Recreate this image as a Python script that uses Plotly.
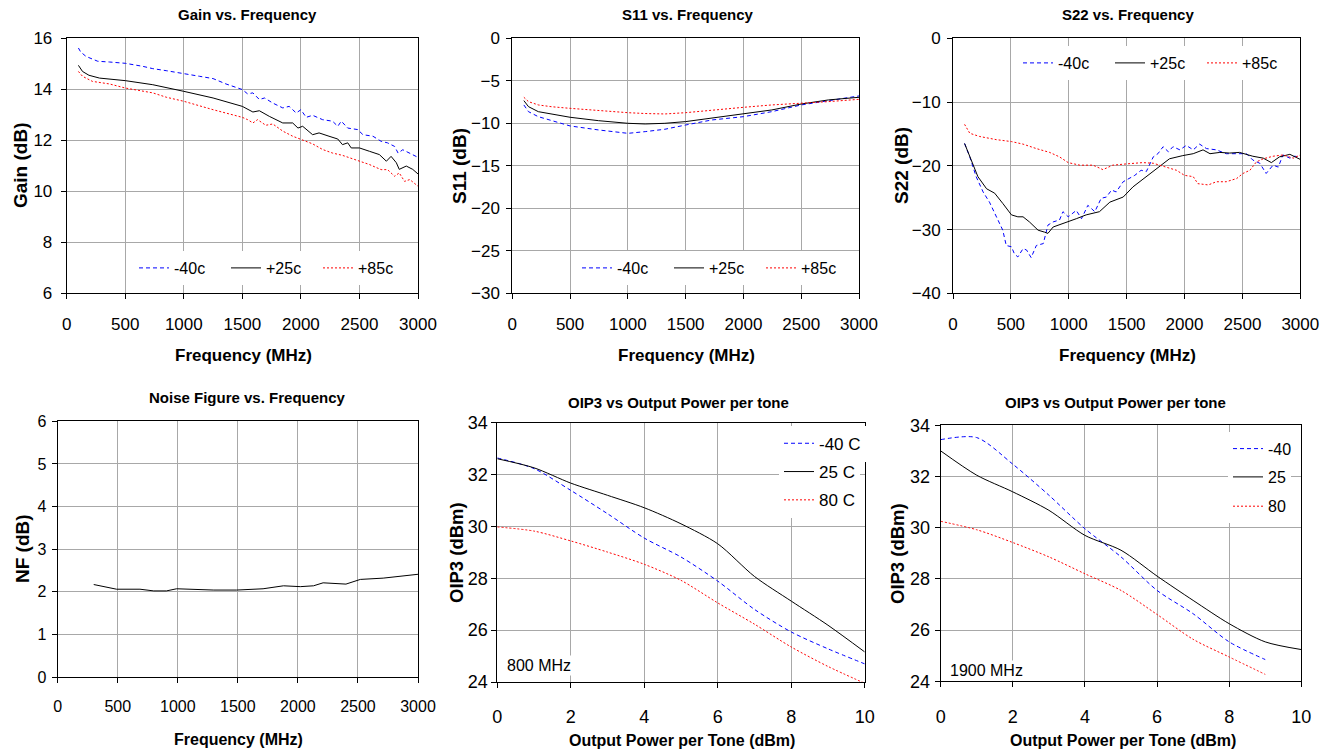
import plotly.graph_objects as go

W, H = 1332, 754

# ---------------- data ----------------
gain_m40_f = [100,120,165,220,265,365,500,650,735,850,1000,1135,1250,1360,1500,1545,1590,1645,1690,1760,
              1845,1900,1960,2000,2045,2100,2185,2270,2315,2345,2400,2485,2530,2615,2685,2740,2800,2830,2870,2930,3000]
gain_m40 = [15.62,15.46,15.29,15.2,15.1,15.07,15.02,14.9,14.81,14.73,14.63,14.51,14.42,14.21,13.99,13.82,13.86,13.6,13.66,13.46,
            13.27,13.33,13.07,13.2,12.9,12.98,12.81,12.75,12.55,12.75,12.48,12.42,12.22,12.16,11.96,11.9,11.76,11.5,11.63,11.5,11.33]
gain_p25_f = [100,135,190,280,500,735,1000,1250,1500,1590,1645,1730,1845,1930,1975,2015,2100,2155,2240,2315,
              2355,2400,2430,2500,2585,2670,2730,2770,2815,2840,2900,2955,3000]
gain_p25 = [14.94,14.7,14.55,14.44,14.34,14.18,13.92,13.66,13.33,13.11,13.16,12.94,12.68,12.68,12.48,12.55,12.22,12.29,12.16,12.05,
            11.83,11.9,11.7,11.7,11.57,11.44,11.18,11.37,11.12,10.86,10.99,10.86,10.68]
gain_p85_f = [100,135,220,365,500,735,850,1000,1250,1500,1545,1590,1630,1700,1760,1845,1930,2000,2100,2185,
              2270,2355,2500,2585,2685,2740,2800,2840,2885,2930,3000]
gain_p85 = [14.7,14.51,14.31,14.21,14.05,13.86,13.69,13.53,13.2,12.9,12.81,12.68,12.81,12.59,12.64,12.36,12.16,12.03,11.86,11.64,
            11.5,11.41,11.18,11.05,10.85,10.85,10.59,10.72,10.39,10.46,10.2]

s11_f = [100,140,225,340,500,745,1000,1150,1320,1500,1725,2000,2245,2500,2735,3000]
s11_m40 = [-7.84,-8.63,-9.22,-9.69,-10.31,-10.78,-11.18,-10.98,-10.7,-10.2,-9.61,-9.22,-8.63,-7.84,-7.33,-6.78]
s11_p25 = [-7.33,-8.04,-8.63,-8.94,-9.29,-9.69,-10.0,-10.08,-10.0,-9.8,-9.41,-8.9,-8.43,-7.73,-7.25,-6.94]
s11_p85 = [-6.94,-7.45,-7.84,-8.05,-8.24,-8.51,-8.75,-8.85,-8.9,-8.75,-8.43,-8.12,-7.84,-7.65,-7.45,-7.18]

s22_m40_f = [100,145,200,260,315,375,430,460,505,530,560,605,635,675,720,780,820,865,920,950,
             995,1065,1110,1165,1225,1280,1325,1370,1410,1470,1525,1570,1625,1670,1730,1770,1815,1860,1900,1960,
             2015,2075,2130,2190,2275,2360,2450,2535,2590,2650,2705,2765,2810,2850,2910,2950,3000]
s22_m40 = [-16.5,-18.6,-21.7,-24.1,-25.7,-28.0,-30.1,-32.5,-32.7,-33.8,-34.3,-33.0,-33.2,-34.4,-32.5,-32.2,-29.3,-28.8,-28.5,-27.2,
           -28.0,-27.0,-28.3,-26.2,-27.2,-25.1,-24.9,-23.8,-24.1,-22.5,-22.0,-21.5,-20.7,-20.9,-18.6,-18.1,-17.0,-17.8,-17.0,-17.5,
           -16.8,-17.5,-16.6,-17.3,-17.5,-18.1,-18.1,-18.1,-19.1,-19.6,-21.2,-19.9,-20.2,-18.3,-18.8,-18.5,-18.6]
s22_p25_f = [100,160,215,290,360,430,505,560,605,660,735,790,820,865,950,1065,1150,1265,1355,1470,
             1555,1670,1785,1870,1985,2075,2160,2220,2305,2390,2475,2590,2680,2750,2820,2910,3000]
s22_p25 = [-16.5,-19.1,-21.7,-23.6,-24.3,-25.9,-27.7,-28.0,-28.0,-28.8,-30.1,-30.4,-30.6,-29.6,-29.1,-28.3,-27.7,-27.2,-25.7,-24.9,
           -23.3,-21.7,-20.2,-18.9,-18.4,-18.1,-17.5,-18.1,-17.9,-18.0,-17.9,-18.5,-18.8,-19.5,-18.6,-18.2,-19.0]
s22_p85_f = [100,145,230,375,505,605,720,835,920,995,1095,1210,1295,1380,1500,1640,1730,1845,1930,2000,
             2075,2115,2205,2275,2360,2450,2505,2565,2620,2680,2765,2850,2940,3000]
s22_p85 = [-13.5,-14.9,-15.4,-15.9,-16.2,-16.6,-17.3,-17.9,-18.6,-19.5,-19.9,-19.9,-20.6,-19.9,-19.7,-19.5,-19.6,-20.2,-20.7,-21.5,
           -21.7,-22.8,-23.0,-22.5,-22.5,-22.0,-21.2,-20.7,-19.4,-18.9,-18.5,-18.3,-18.8,-18.3]

nf_f = [300,490,685,800,905,990,1300,1490,1710,1880,2020,2130,2210,2300,2400,2520,2710,3000]
nf = [2.17,2.06,2.06,2.02,2.02,2.07,2.04,2.04,2.07,2.14,2.12,2.14,2.21,2.19,2.18,2.29,2.32,2.41]

pout_800 = [0,1,2,3,4,5,6,7,8,9,10]
oip3_800_m40 = [32.64,32.23,31.39,30.49,29.55,28.82,27.89,26.8,25.93,25.28,24.7]
oip3_800_p25 = [32.61,32.26,31.67,31.2,30.72,30.1,29.33,28.07,27.12,26.19,25.16]
oip3_800_p80 = [29.98,29.82,29.44,29.01,28.54,27.92,27.05,26.23,25.35,24.6,23.95]

pout_1900_9 = [0,1,2,3,4,5,6,7,8,9]
pout_1900_10 = [0,1,2,3,4,5,6,7,8,9,10]
oip3_1900_m40 = [33.44,33.52,32.48,31.27,29.96,28.86,27.55,26.64,25.54,24.85]
oip3_1900_p25 = [33.0,32.05,31.4,30.68,29.7,29.12,28.11,27.16,26.25,25.54,25.24]
oip3_1900_p80 = [30.25,29.92,29.42,28.86,28.2,27.55,26.61,25.64,24.95,24.27]

names_freq = ["-40c", "+25c", "+85c"]
names_800 = ["-40 C", "25 C", "80 C"]
names_1900 = ["-40", "25", "80"]

# ---------------- styles ----------------
FONT = "Liberation Sans, Arial, sans-serif"
BLUE, BLACK, RED = "#0000FF", "#000000", "#FF0000"
DASH, DOT = "4px,3px", "2px,2px"
styles = [dict(color=BLUE, width=1, dash=DASH),
          dict(color=BLACK, width=1, dash="solid"),
          dict(color=RED, width=1, dash=DOT)]

fig = go.Figure()

def add(i, x, y, name, st, legend, spline=False, show=True):
    ax = "" if i == 1 else str(i)
    line = dict(st)
    if spline:
        line["shape"] = "spline"
        line["smoothing"] = 0.8
    fig.add_trace(go.Scatter(x=x, y=y, name=name, mode="lines", line=line,
                             xaxis="x" + ax, yaxis="y" + ax, legend=legend,
                             showlegend=show, hoverinfo="skip"))

for xs, ys, nm, st in zip([gain_m40_f, gain_p25_f, gain_p85_f], [gain_m40, gain_p25, gain_p85], names_freq, styles):
    add(1, xs, ys, nm, st, "legend")
for ys, nm, st in zip([s11_m40, s11_p25, s11_p85], names_freq, styles):
    add(2, s11_f, ys, nm, st, "legend2")
for xs, ys, nm, st in zip([s22_m40_f, s22_p25_f, s22_p85_f], [s22_m40, s22_p25, s22_p85], names_freq, styles):
    add(3, xs, ys, nm, st, "legend3")
add(4, nf_f, nf, "NF", styles[1], "legend", show=False)
for k, (ys, nm, st) in enumerate(zip([oip3_800_m40, oip3_800_p25, oip3_800_p80], names_800, styles)):
    add(5, pout_800, ys, nm, st, "legend%d" % (4 + k), spline=True)
for k, (xs, ys, nm, st) in enumerate(zip([pout_1900_9, pout_1900_10, pout_1900_9],
                                         [oip3_1900_m40, oip3_1900_p25, oip3_1900_p80], names_1900, styles)):
    add(6, xs, ys, nm, st, "legend%d" % (7 + k), spline=True)

def px(x): return x / W
def py(y): return 1 - y / H

# plot areas in pixels: (left, right, top, bottom)
areas = {
    1: (66.7, 418, 38.3, 293.3),
    2: (512.3, 859, 38.3, 293.3),
    3: (953, 1300.3, 38.3, 293.3),
    4: (57.7, 418, 421.3, 677),
    5: (497.3, 864.7, 422.7, 682),
    6: (940.7, 1301.3, 425.3, 681.3),
}
yranges = {1: [6, 16], 2: [-30, 0], 3: [-40, 0], 4: [0, 6], 5: [24, 34], 6: [24, 34]}
ydticks = {1: 2, 2: 5, 3: 10, 4: 1, 5: 2, 6: 2}
tickfs = {1: 17, 2: 17, 3: 17, 4: 16, 5: 18, 6: 18}
ystand = {1: 5, 2: 3, 3: 3, 4: 2, 5: 0, 6: 1}
xstand = {1: 10, 2: 10, 3: 10, 4: 10, 5: 13, 6: 14}

layout = dict(width=W, height=H, margin=dict(l=0, r=0, t=0, b=0, pad=0, autoexpand=False),
              paper_bgcolor="white", plot_bgcolor="white",
              font=dict(family=FONT, color="black"), showlegend=True)

for i, (l, r, t, b) in areas.items():
    ax = "" if i == 1 else str(i)
    common = dict(showline=True, linecolor="black", linewidth=1, mirror=True,
                  showgrid=True, gridcolor="#A8A8A8", gridwidth=1, zeroline=False,
                  ticks="outside", ticklen=5, tickcolor="black", tickwidth=1, automargin=False,
                  tickfont=dict(family=FONT, size=tickfs[i], color="black"), fixedrange=True)
    if i <= 4:
        xr, xd = [0, 3000], 500
    else:
        xr, xd = [0, 10], 2
    layout["xaxis" + ax] = dict(common, domain=[px(l), px(r)], range=xr, dtick=xd, tick0=0,
                                anchor="y" + ax, ticklabelstandoff=xstand[i])
    layout["yaxis" + ax] = dict(common, domain=[py(b), py(t)], range=yranges[i], dtick=ydticks[i],
                                tick0=0, anchor="x" + ax, ticklabelstandoff=ystand[i])

# legends
def hleg(x, y):
    return dict(orientation="h", x=px(x), y=py(y), xanchor="left", yanchor="middle",
                bgcolor="white", borderwidth=0, font=dict(family=FONT, size=16),
                entrywidth=47, entrywidthmode="pixels", itemclick=False, itemdoubleclick=False)

def vleg(x, y, fs):
    return dict(orientation="v", x=px(x), y=py(y), xanchor="left", yanchor="middle",
                bgcolor="white", borderwidth=0, font=dict(family=FONT, size=fs),
                itemclick=False, itemdoubleclick=False)

layout["legend"] = hleg(134, 268)
layout["legend2"] = hleg(577, 268)
layout["legend3"] = hleg(1018, 63)
for k, yy in enumerate([443.7, 472, 500.3]):
    layout["legend%d" % (4 + k)] = vleg(779, yy, 17)
for k, yy in enumerate([448.7, 477, 506.3]):
    layout["legend%d" % (7 + k)] = vleg(1228, yy, 16)

ann = []
def text(x, y, s, size, bold=True, angle=0, bg=None, xanchor="center"):
    d = dict(x=px(x), y=py(y), xref="paper", yref="paper", text=("<b>%s</b>" % s) if bold else s,
             showarrow=False, xanchor=xanchor, yanchor="middle", textangle=angle,
             font=dict(family=FONT, size=size, color="black"))
    if bg:
        d["bgcolor"] = bg
    ann.append(d)

# chart titles
text(247, 14, "Gain vs. Frequency", 15)
text(688, 14, "S11 vs. Frequency", 15)
text(1128, 14, "S22 vs. Frequency", 15)
text(247, 397, "Noise Figure vs. Frequency", 15)
text(678, 403, "OIP3 vs Output Power per tone", 15)
text(1115, 403, "OIP3 vs Output Power per tone", 15)
# x titles
text(243, 355, "Frequency (MHz)", 17)
text(686, 355, "Frequency (MHz)", 17)
text(1127, 355, "Frequency (MHz)", 17)
text(238, 739, "Frequency (MHz)", 16)
text(682, 740, "Output Power per Tone (dBm)", 16)
text(1123, 740, "Output Power per Tone (dBm)", 16)
# y titles
text(20, 165, "Gain (dB)", 19, angle=-90)
text(459, 166, "S11 (dB)", 19, angle=-90)
text(901, 166, "S22 (dB)", 19, angle=-90)
text(22, 549, "NF (dB)", 19, angle=-90)
text(456, 553, "OIP3 (dBm)", 18.5, angle=-90)
text(897, 554, "OIP3 (dBm)", 18.5, angle=-90)
# frequency labels
text(505, 665, "800 MHz", 16, bold=False, bg="white", xanchor="left")
text(948, 670, "1900 MHz", 16, bold=False, bg="white", xanchor="left")

layout["annotations"] = ann
fig.update_layout(**layout)

fig.write_html("out.html", config={"displayModeBar": False},
               post_script="document.body.style.margin='0';document.body.style.padding='0';")
